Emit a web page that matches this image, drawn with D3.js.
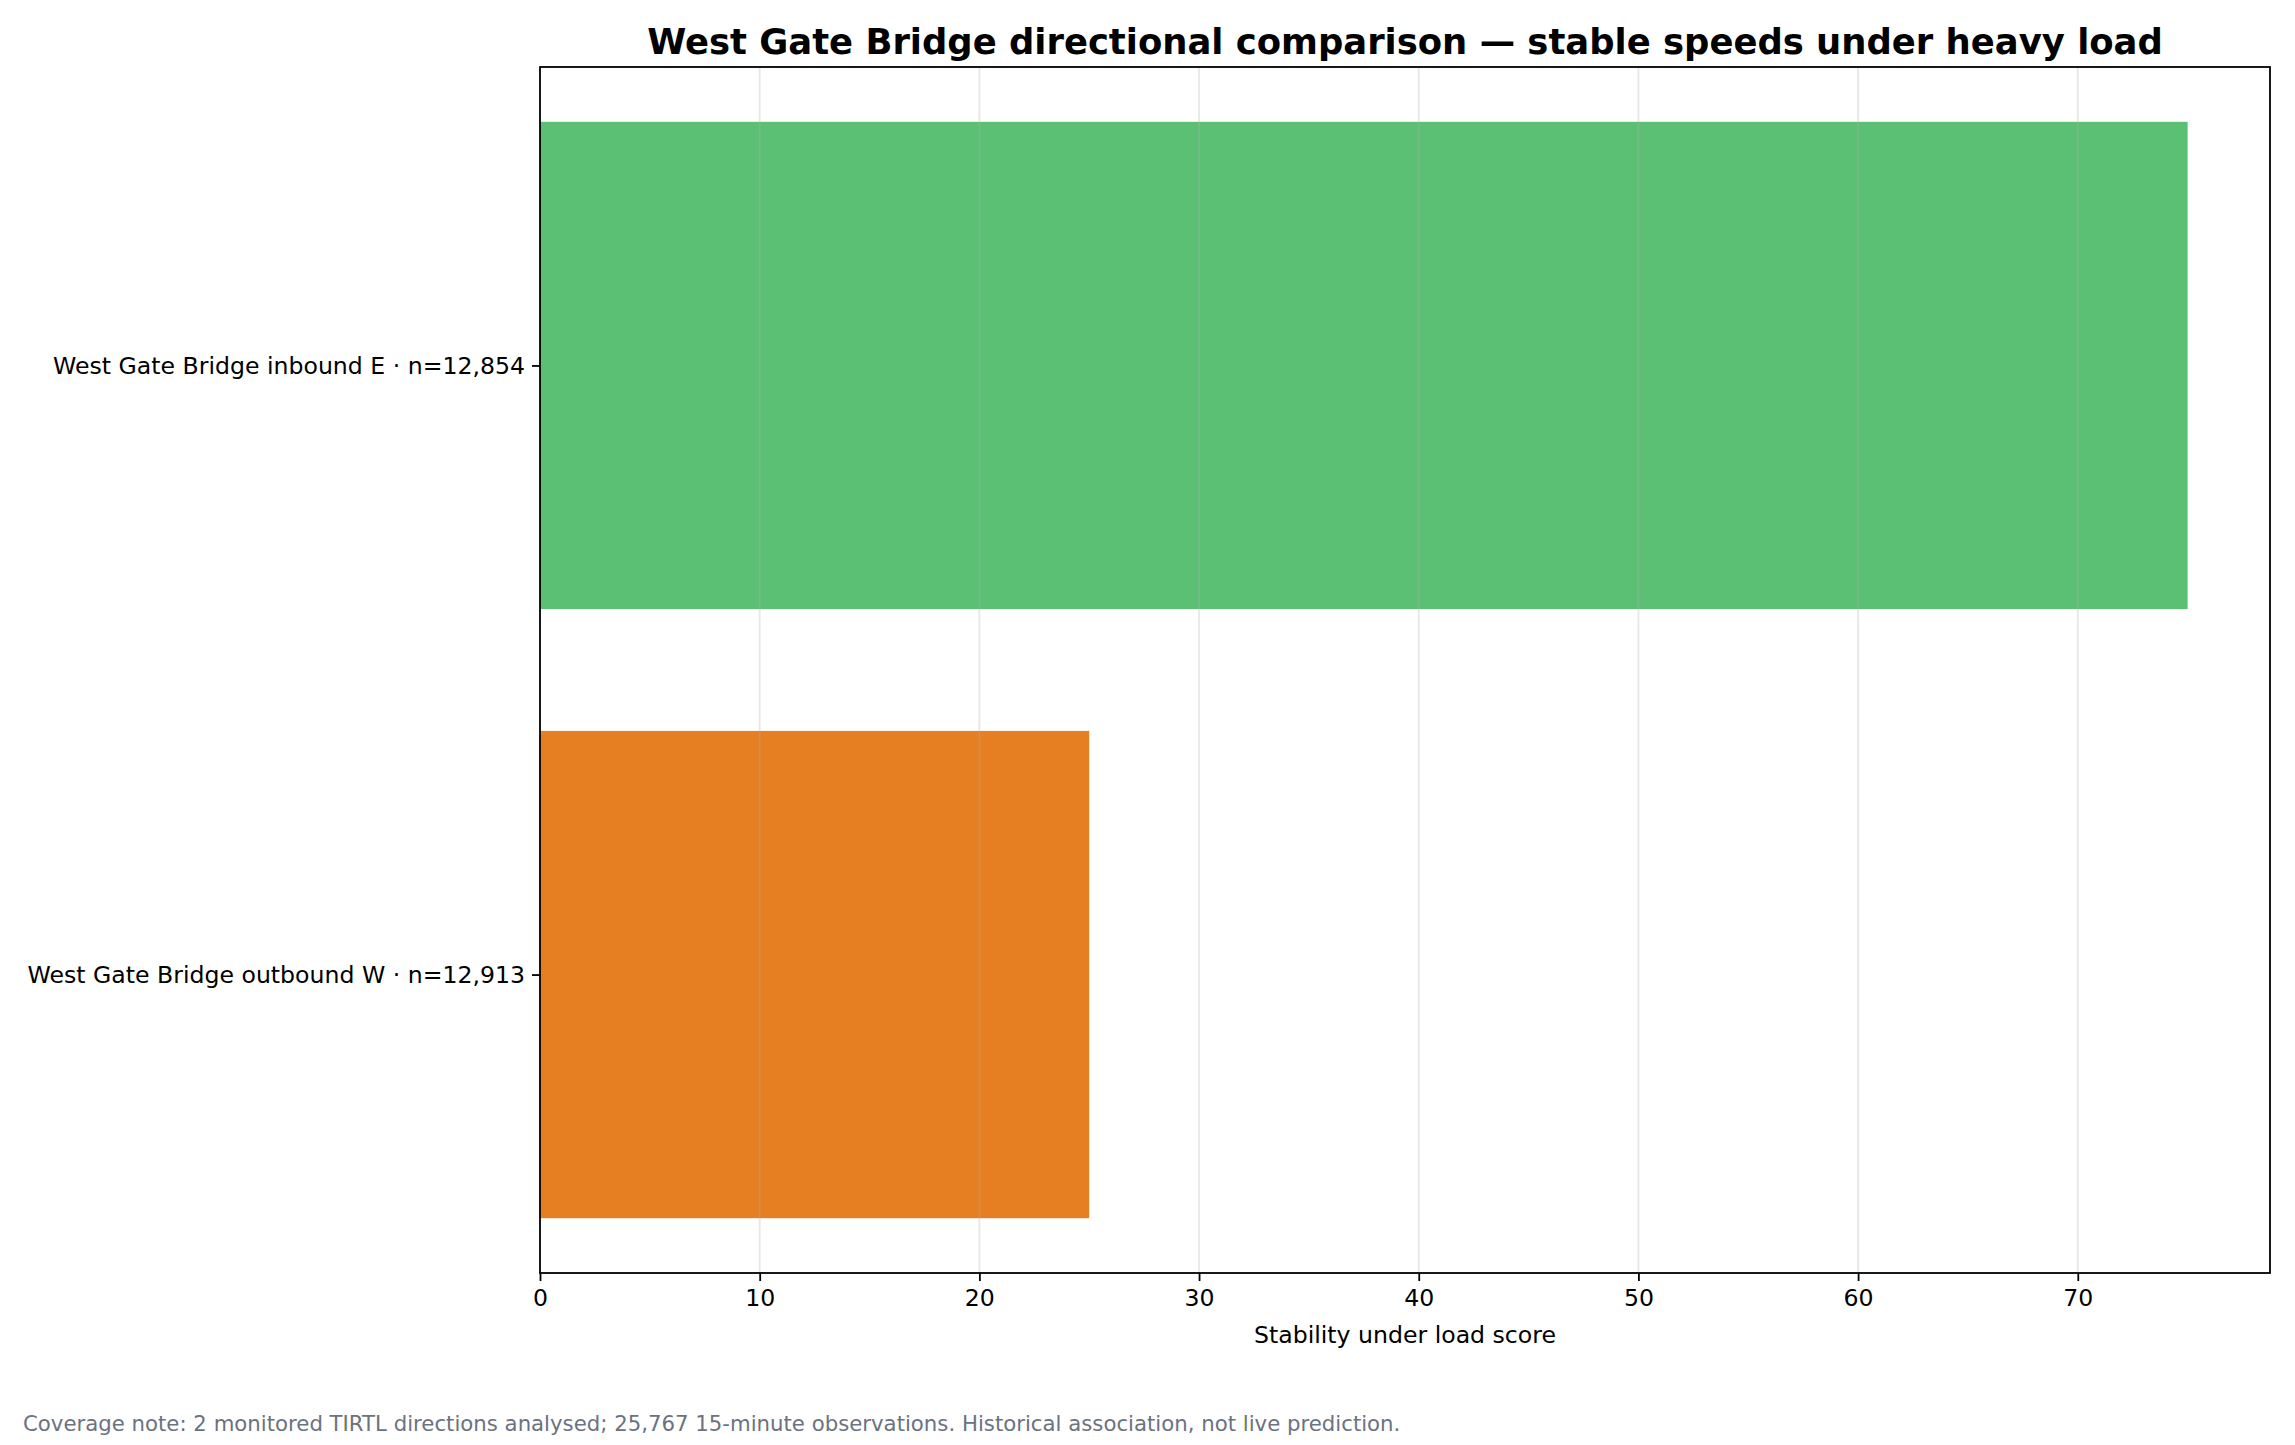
<!DOCTYPE html>
<html><head><meta charset="utf-8">
<script src="https://cdn.jsdelivr.net/npm/d3@7"></script>
<style>body{margin:0;background:#fff}svg{display:block}text{font-family:"DejaVu Sans",sans-serif}</style>
</head><body>
<svg id="c" width="2295" height="1445"></svg>
<script>
const categories = ["West Gate Bridge inbound E · n=12,854", "West Gate Bridge outbound W · n=12,913"];
const values = [75, 25];
const barColors = ["#5bc073", "#e67e22"];
const xTicks = [0, 10, 20, 30, 40, 50, 60, 70];
const title = "West Gate Bridge directional comparison — stable speeds under heavy load";
const xLabel = "Stability under load score";
const note = "Coverage note: 2 monitored TIRTL directions analysed; 25,767 15-minute observations. Historical association, not live prediction.";

const svg = d3.select("#c");
const L = 540, R = 2270, T = 67, B = 1273;
const x = d3.scaleLinear().domain([0, d3.max(values) * 1.05]).range([L, R]);
const n = categories.length;
const y = d3.scaleLinear().domain([-0.4 - 0.09 * (n - 1 + 0.8) / 1.8, n - 1 + 0.4 + 0.09 * (n - 1 + 0.8) / 1.8]).range([T, B]);
const bh = 0.8;
const fs = 23.6;

svg.append("g").selectAll("rect").data(values).join("rect")
  .attr("x", x(0)).attr("y", (d, i) => y(i - bh / 2))
  .attr("width", d => x(d) - x(0)).attr("height", (d, i) => y(i + bh / 2) - y(i - bh / 2))
  .attr("fill", (d, i) => barColors[i]);

svg.append("g").selectAll("line").data(xTicks).join("line")
  .attr("x1", d => x(d)).attr("x2", d => x(d)).attr("y1", T).attr("y2", B)
  .attr("stroke", "#b0b0b0").attr("stroke-opacity", 0.3).attr("stroke-width", 1.8);

const xa = svg.append("g").attr("transform", `translate(0,${B})`)
  .call(d3.axisBottom(x).tickValues(xTicks).tickSize(8).tickPadding(8).tickFormat(d3.format("d")));
xa.select(".domain").remove();
xa.selectAll("line").attr("stroke", "#000").attr("stroke-width", 1.8);
xa.selectAll("text").attr("font-size", fs).attr("fill", "#000").attr("font-family", "DejaVu Sans");

const ya = svg.append("g").attr("transform", `translate(${L},0)`)
  .call(d3.axisLeft(y).tickValues(d3.range(n)).tickSize(8).tickPadding(7).tickFormat(i => categories[i]));
ya.select(".domain").remove();
ya.selectAll("line").attr("stroke", "#000").attr("stroke-width", 1.8);
ya.selectAll("text").attr("font-size", fs).attr("fill", "#000").attr("font-family", "DejaVu Sans");

svg.append("rect").attr("x", L).attr("y", T).attr("width", R - L).attr("height", B - T)
  .attr("fill", "none").attr("stroke", "#000").attr("stroke-width", 1.8);

svg.append("text").attr("x", (L + R) / 2).attr("y", 54).attr("text-anchor", "middle")
  .attr("font-size", 35.4).attr("font-weight", "bold").attr("fill", "#000").text(title);
svg.append("text").attr("x", (L + R) / 2).attr("y", 1343).attr("text-anchor", "middle")
  .attr("font-size", fs).attr("fill", "#000").text(xLabel);
svg.append("text").attr("x", 23).attr("y", 1431)
  .attr("font-size", 21.25).attr("fill", "#6b7280").text(note);
</script>
</body></html>
